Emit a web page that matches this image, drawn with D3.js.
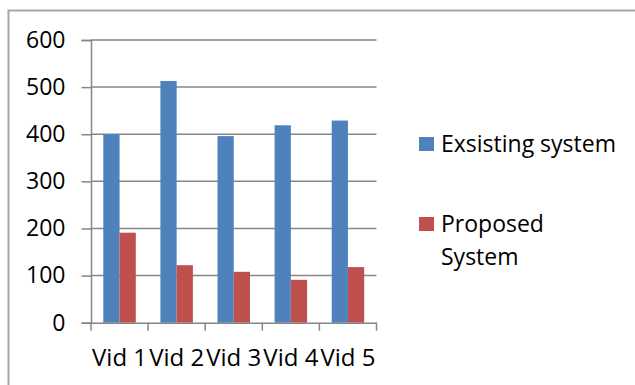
<!DOCTYPE html>
<html>
<head>
<meta charset="utf-8">
<script src="https://cdn.jsdelivr.net/npm/d3@7"></script>
<style>
  html, body { margin: 0; padding: 0; background: #fff; }
  svg { display: block; }
  text { font-family: "Open Sans", sans-serif; fill: #000; }
</style>
</head>
<body>
<svg id="chart" width="635" height="385"></svg>
<script>
// Processing results per video
const categories = ["Vid 1", "Vid 2", "Vid 3", "Vid 4", "Vid 5"];
const seriesNames = ["Exsisting system", "Proposed System"];
const existingValues = [400, 513, 396, 419, 429];
const proposedValues = [191, 122, 108, 91, 118];
const yTicks = [0, 100, 200, 300, 400, 500, 600];
const colors = ["#4f81bd", "#c0504d"];

const svg = d3.select("#chart");
const W = 635, H = 385;

// chart frame (runs past the right and bottom edges)
svg.append("rect")
  .attr("x", 8.5).attr("y", 10.5)
  .attr("width", W + 20).attr("height", H + 20)
  .attr("fill", "#fff").attr("stroke", "#a6a6a6").attr("stroke-width", 2);

const plot = { left: 91, right: 376.5, top: 40, bottom: 322.7 };

const x = d3.scaleBand().domain(categories).range([plot.left, plot.right]).paddingInner(0).paddingOuter(0);
const y = d3.scaleLinear().domain([0, 600]).range([plot.bottom, plot.top]);

const gridColor = "#868686";

// horizontal gridlines
svg.append("g").selectAll("line").data(yTicks.filter(d => d > 0)).join("line")
  .attr("x1", plot.left).attr("x2", plot.right)
  .attr("y1", d => y(d)).attr("y2", d => y(d))
  .attr("stroke", gridColor).attr("stroke-width", 1.5);

// bars
const groupPad = 12.3;
const barW = (x.bandwidth() - 2 * groupPad) / 2;
const rows = categories.map((c, i) => ({ c, vals: [existingValues[i], proposedValues[i]] }));
const grp = svg.append("g").selectAll("g").data(rows).join("g");
grp.selectAll("rect").data(d => d.vals.map((v, k) => ({ c: d.c, v, k }))).join("rect")
  .attr("x", d => x(d.c) + groupPad + d.k * barW)
  .attr("width", barW)
  .attr("y", d => y(d.v))
  .attr("height", d => y(0) - y(d.v))
  .attr("fill", d => colors[d.k]);

// y axis
const yAxis = svg.append("g").attr("transform", `translate(${plot.left},0)`)
  .call(d3.axisLeft(y).tickValues(yTicks).tickSize(9.5).tickPadding(16).tickFormat(d3.format("d")));
yAxis.select(".domain").attr("stroke", gridColor).attr("stroke-width", 1.5);
yAxis.selectAll(".tick line").attr("stroke", gridColor).attr("stroke-width", 1.5);
yAxis.selectAll("text").attr("font-size", 23).attr("font-family", "Open Sans, sans-serif").attr("fill", "#000");

// x axis
const xAxis = svg.append("g").attr("transform", `translate(0,${plot.bottom})`)
  .call(d3.axisBottom(x).tickSize(0).tickPadding(0));
xAxis.select(".domain").attr("stroke", gridColor).attr("stroke-width", 1.5);
xAxis.selectAll(".tick text").attr("font-size", 24).attr("font-family", "Open Sans, sans-serif")
  .attr("fill", "#000").attr("dy", null).attr("y", 43);
// category separators
xAxis.append("g").selectAll("line").data(d3.range(categories.length + 1)).join("line")
  .attr("x1", i => plot.left + i * x.bandwidth()).attr("x2", i => plot.left + i * x.bandwidth())
  .attr("y1", 0).attr("y2", 8)
  .attr("stroke", gridColor).attr("stroke-width", 1.5);

// legend
const legend = svg.append("g");
const legendItems = [
  { lines: [seriesNames[0]], y: 137 },
  { lines: ["Proposed", "System"], y: 217 }
];
legendItems.forEach((it, k) => {
  legend.append("rect").attr("x", 419).attr("y", it.y).attr("width", 15).attr("height", 14).attr("fill", colors[k]);
  const t = legend.append("text").attr("x", 441).attr("y", it.y + 15).attr("font-size", 23);
  it.lines.forEach((ln, j) => t.append("tspan").attr("x", 441).attr("dy", j === 0 ? 0 : 33).text(ln));
});
</script>
</body>
</html>
